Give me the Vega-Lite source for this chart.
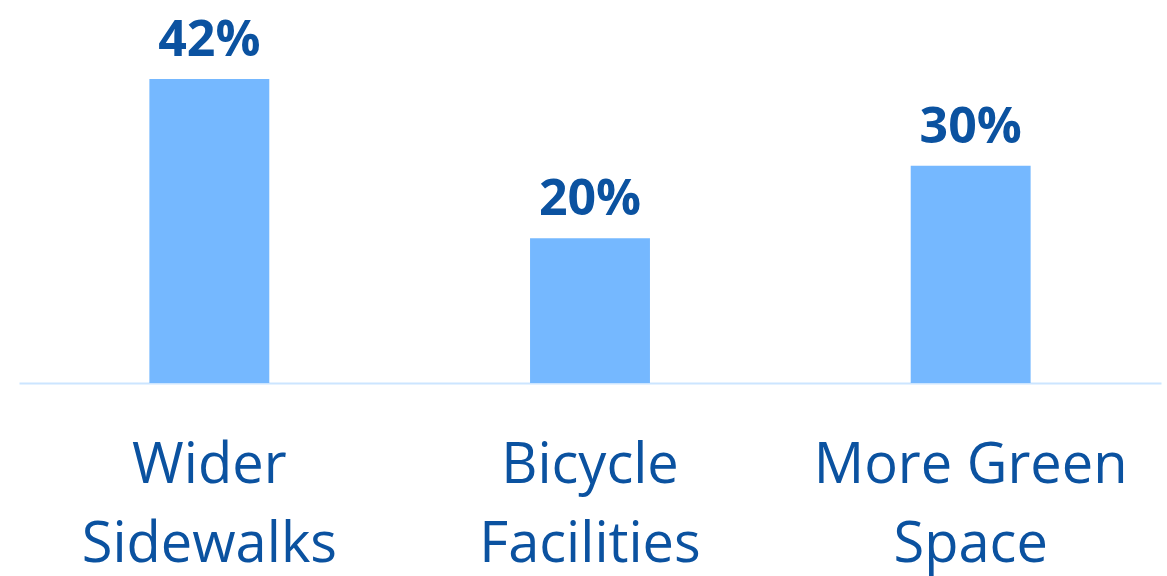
{
  "$schema": "https://vega.github.io/schema/vega-lite/v6.json",
  "width": 1142,
  "height": 362,
  "autosize": {"type": "none"},
  "padding": {"left": 19, "top": 21, "right": 6, "bottom": 193},
  "background": "white",
  "config": {"view": {"stroke": null}, "font": "Open Sans"},
  "data": {"values": [
    {"category": "Wider Sidewalks", "pct": 0.42},
    {"category": "Bicycle Facilities", "pct": 0.20},
    {"category": "More Green Space", "pct": 0.30}
  ]},
  "encoding": {
    "x": {"field": "category", "type": "nominal", "sort": null,
      "scale": {"paddingInner": 0.685, "paddingOuter": 0.3425},
      "axis": {"title": null, "labelAngle": 0, "ticks": false, "domainColor": "#cce5ff", "domainWidth": 2,
        "labelFont": "Open Sans", "labelFontSize": 56, "labelColor": "#0B52A0", "labelPadding": 55,
        "labelLineHeight": 79, "labelBaseline": "top", "labelLimit": 0,
        "labelExpr": "datum.value == 'Wider Sidewalks' ? ['Wider','Sidewalks'] : datum.value == 'Bicycle Facilities' ? ['Bicycle','Facilities'] : ['More Green','Space']"}},
    "y": {"field": "pct", "type": "quantitative", "scale": {"domain": [0, 0.5]}, "axis": null}
  },
  "layer": [
    {"mark": {"type": "bar", "color": "#75B8FF"}},
    {"mark": {"type": "text", "baseline": "alphabetic", "dy": -23, "fontSize": 50, "fontWeight": "bold", "color": "#0B52A0", "font": "Open Sans"},
     "encoding": {"text": {"field": "pct", "type": "quantitative", "format": ".0%"}}}
  ]
}
